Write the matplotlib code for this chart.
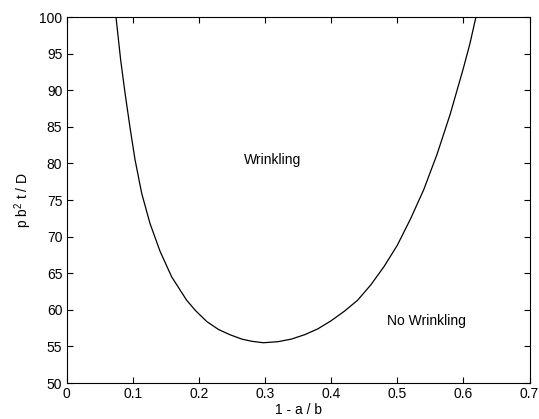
import matplotlib.pyplot as plt
import numpy as np

plt.rcParams['font.family'] = ['Liberation Sans', 'DejaVu Sans']
plt.rcParams['mathtext.fontset'] = 'custom'
plt.rcParams['mathtext.rm'] = 'Liberation Sans'
plt.rcParams['mathtext.it'] = 'Liberation Sans'

# boundary curve
x = [0.0748, 0.0819, 0.0885, 0.096, 0.1036, 0.1137, 0.1262, 0.1414, 0.159,
     0.1817, 0.195, 0.212, 0.23, 0.247, 0.265, 0.28, 0.2976,
     0.32, 0.34, 0.36, 0.38, 0.40, 0.42, 0.44, 0.46, 0.48, 0.50,
     0.52, 0.54, 0.56, 0.58, 0.60, 0.61, 0.619]
y = [100.0, 94.1, 89.6, 84.9, 80.5, 75.9, 71.8, 68.0, 64.5,
     61.3, 59.9, 58.4, 57.3, 56.6, 56.0, 55.7, 55.5,
     55.65, 56.0, 56.6, 57.4, 58.5, 59.8, 61.3, 63.4, 65.9, 68.8,
     72.4, 76.4, 81.2, 86.7, 93.0, 96.4, 100.0]

xticks = [0, 0.1, 0.2, 0.3, 0.4, 0.5, 0.6, 0.7]
xticklabels = ['0', '0.1', '0.2', '0.3', '0.4', '0.5', '0.6', '0.7']
yticks = [50, 55, 60, 65, 70, 75, 80, 85, 90, 95, 100]

fig = plt.figure(figsize=(5.39, 4.19), dpi=100)
ax = fig.add_axes([0.1234, 0.0859, 0.8590, 0.8735])

ax.plot(x, y, color='black', linewidth=0.9)

ax.set_xlim(0, 0.7)
ax.set_ylim(50, 100)
ax.set_xticks(xticks)
ax.set_xticklabels(xticklabels)
ax.set_yticks(yticks)
ax.tick_params(direction='in', top=True, right=True, labelsize=10, length=4, width=0.8, pad=3)
for s in ax.spines.values():
    s.set_linewidth(0.8)

ax.set_xlabel('1 - a / b', fontsize=10, labelpad=1)
ax.set_ylabel('p b$^2$ t / D', fontsize=10, labelpad=4)

ax.text(0.312, 80.4, 'Wrinkling', ha='center', va='center', fontsize=10)
ax.text(0.5435, 58.5, 'No Wrinkling', ha='center', va='center', fontsize=10)

plt.savefig('out.png', dpi=100)
